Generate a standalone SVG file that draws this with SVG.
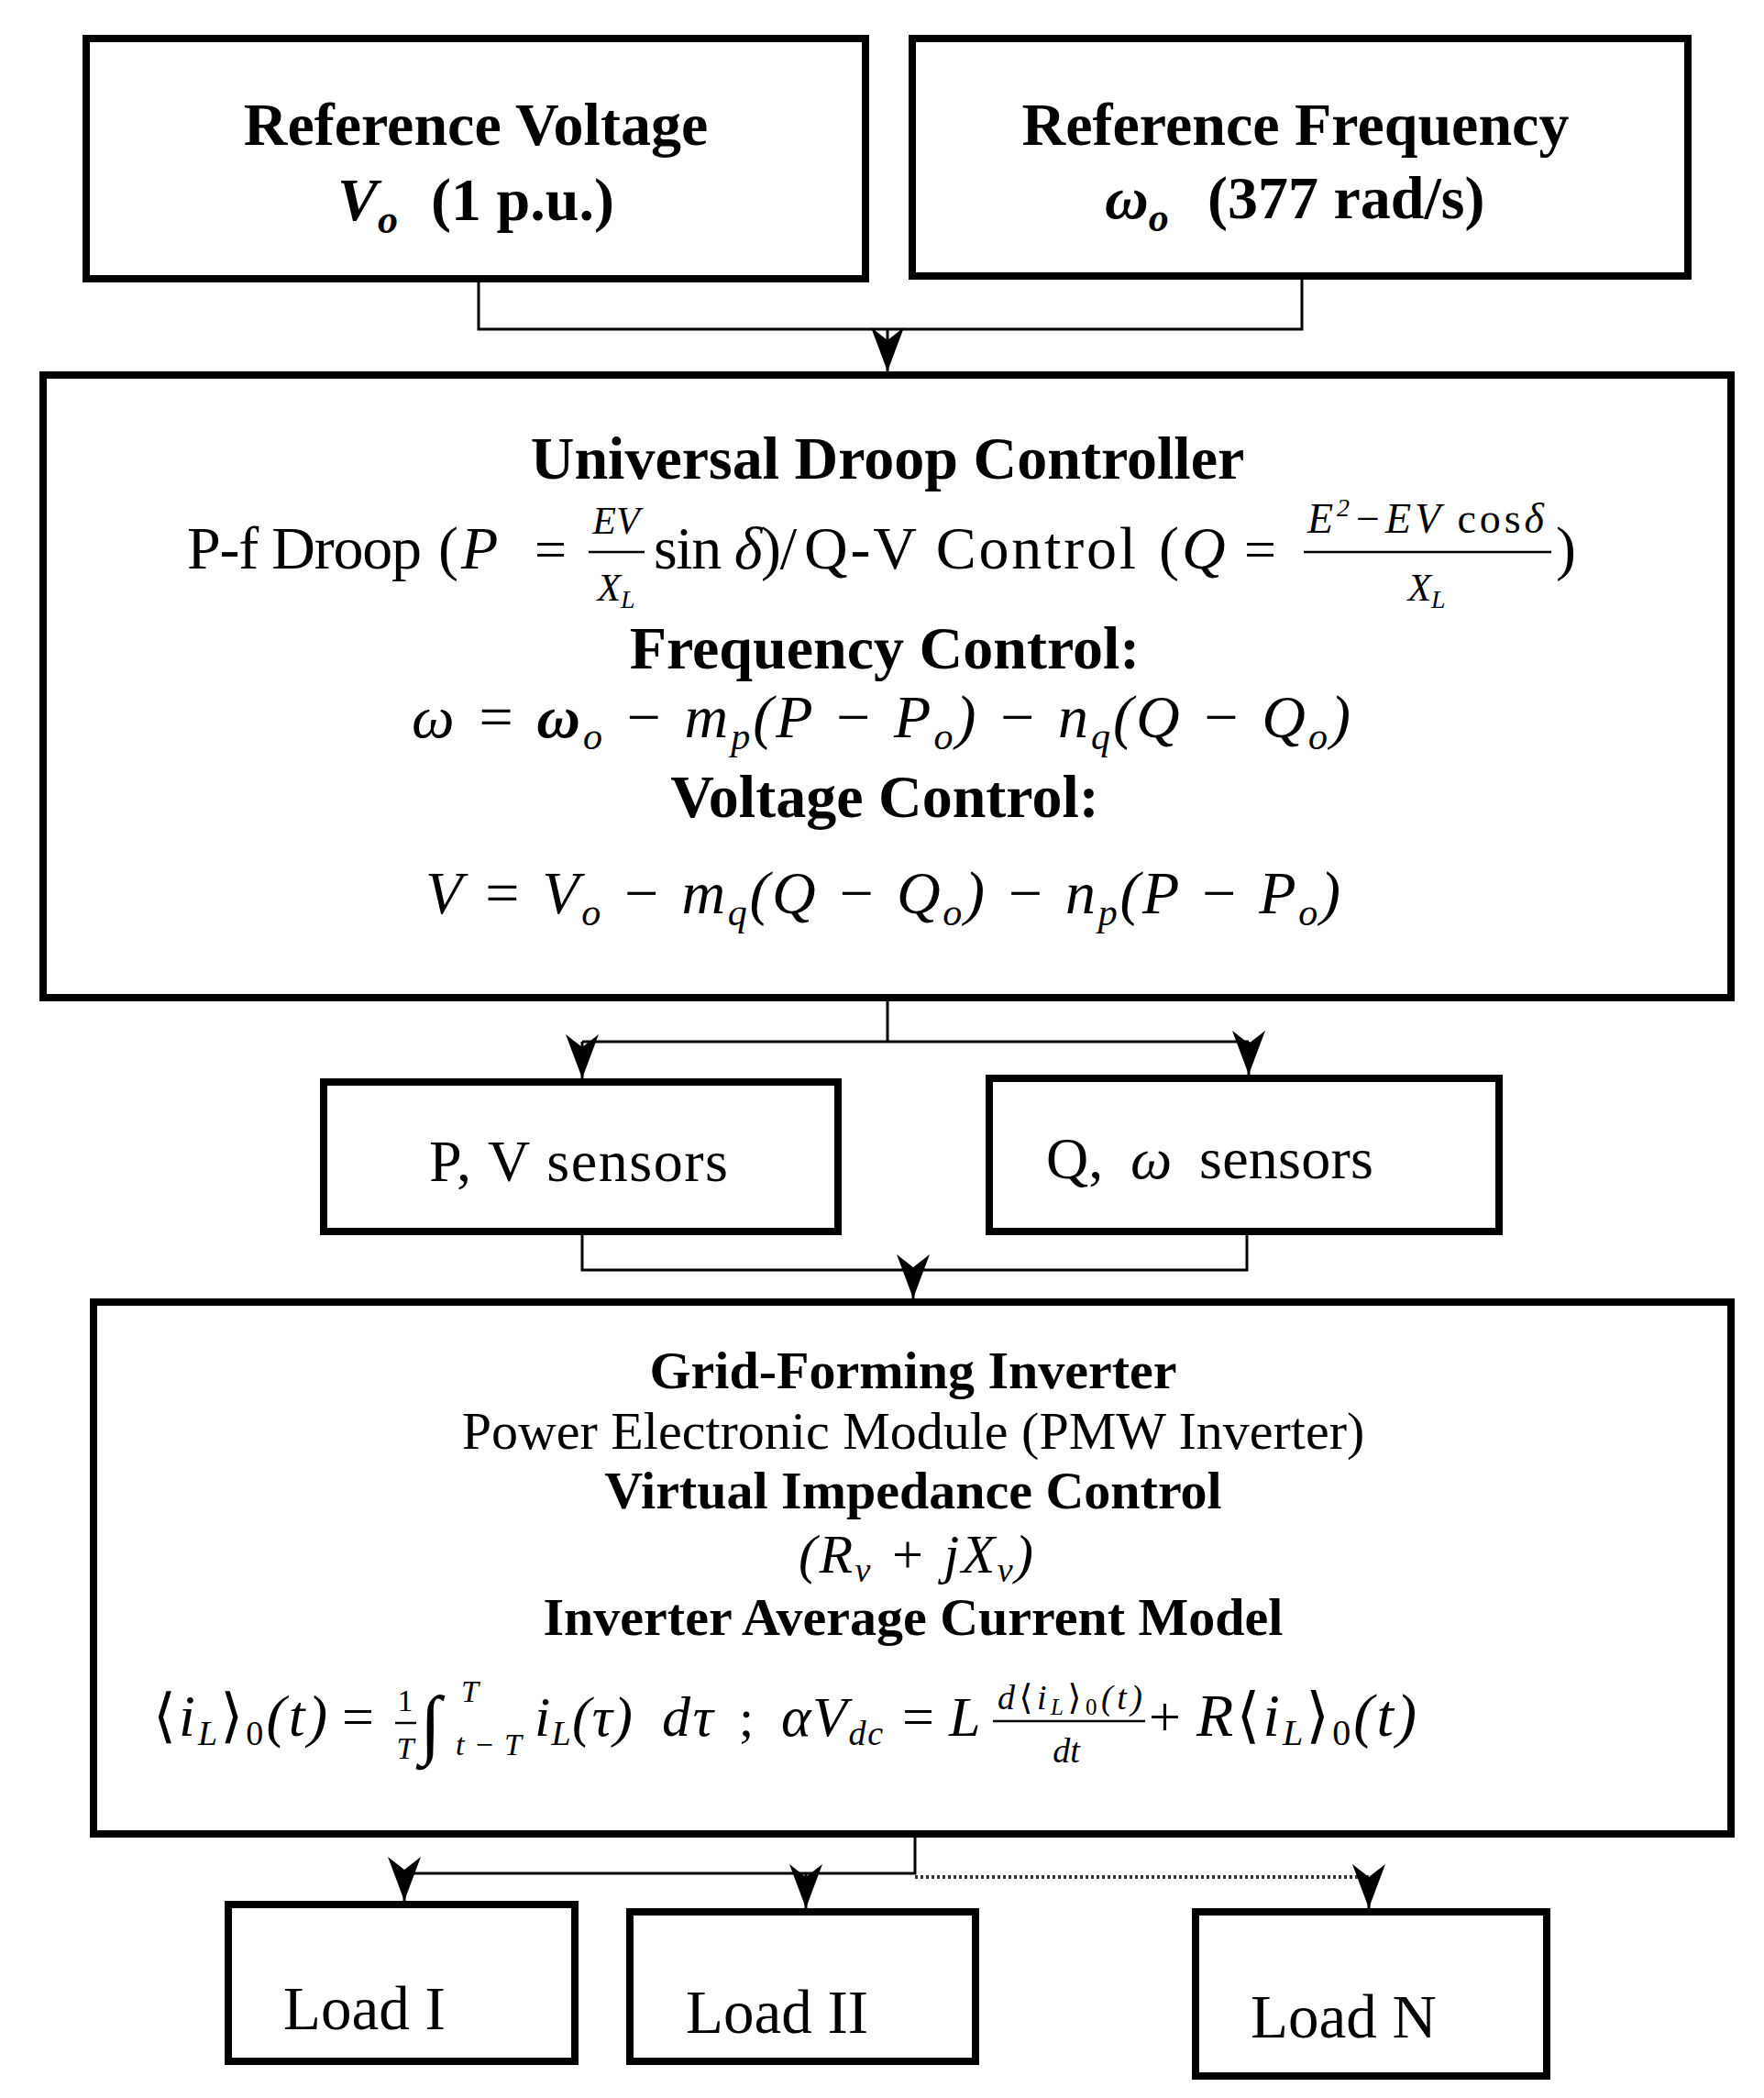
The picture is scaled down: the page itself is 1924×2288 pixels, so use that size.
<svg xmlns="http://www.w3.org/2000/svg" width="1924" height="2288" viewBox="0 0 1924 2288">
<style>
.box{fill:#fff;stroke:#000;stroke-width:8}
.t{font-family:"Liberation Serif","Times New Roman","DejaVu Serif",serif;fill:#000}
.b{font-weight:bold}
.i{font-style:italic}
.c{text-anchor:middle}
.ln{stroke:#000;stroke-width:3;fill:none}
.ar{stroke:#000;stroke-width:3;fill:none;marker-end:url(#ah)}
.dot{stroke:#333;stroke-width:4;fill:none;stroke-dasharray:3 3}
.bar{stroke:#000;stroke-width:2.5}
</style>
<defs>
<marker id="ah" markerUnits="userSpaceOnUse" markerWidth="52" markerHeight="40" viewBox="-50 -20 52 40" refX="0" refY="0" orient="auto">
<path d="M0,0 L-48,-18 L-34,0 L-48,18 Z" fill="#000"/>
</marker>
</defs>
<rect width="1924" height="2288" fill="#fff"/>

<g id="connectors">
<path class="ln" d="M522,308 V359 H1420 V304"/>
<path class="ar" d="M968,359 V405"/>
<path class="ln" d="M968,1092 V1136 M635,1136 H1362"/>
<path class="ar" d="M635,1136 V1176"/>
<path class="ar" d="M1362,1136 V1172"/>
<path class="ln" d="M635,1347 V1385 H1360 V1347"/>
<path class="ar" d="M996,1385 V1416"/>
<path class="ln" d="M998,2004 V2043 H441"/>
<path class="ar" d="M441,2043 V2073"/>
<path class="ar" d="M879,2043 V2081"/>
<path class="dot" d="M998,2047 H1493"/>
<path class="ar" d="M1493,2047 V2081"/>
</g>

<g id="ref-voltage">
<rect class="box" x="94" y="42" width="850" height="262"/>
<text class="t b c" x="519" y="158" font-size="66">Reference Voltage</text>
<text class="t b i" x="368" y="240" font-size="66">V<tspan font-size="44" dy="14">o</tspan></text>
<text class="t b" x="470" y="240" font-size="66">(1 p.u.)</text>
</g>

<g id="ref-frequency">
<rect class="box" x="995" y="42" width="846" height="259"/>
<text class="t b c" x="1413" y="158" font-size="66">Reference Frequency</text>
<text class="t b i" x="1205" y="238" font-size="66">ω<tspan font-size="44" dy="14">o</tspan></text>
<text class="t b" x="1317" y="238" font-size="66">(377 rad/s)</text>
</g>

<g id="droop-controller">
<rect class="box" x="47" y="409" width="1841" height="679"/>
<text class="t b c" x="968" y="522" font-size="66">Universal Droop Controller</text>
<text class="t" x="204" y="620" font-size="66" textLength="256" lengthAdjust="spacing">P-f Droop</text>
<text class="t" x="478" y="620" font-size="66">(</text>
<text class="t i" x="503" y="620" font-size="66">P</text>
<text class="t" x="583" y="620" font-size="62">=</text>
<text class="t i c" x="672" y="582" font-size="42">EV</text>
<line class="bar" x1="642" y1="602" x2="703" y2="602"/>
<text class="t i c" x="672" y="655" font-size="42">X<tspan font-size="28" dy="8">L</tspan></text>
<text class="t" x="713" y="620" font-size="66" textLength="156" lengthAdjust="spacing">sin <tspan class="i">δ</tspan>)/</text>
<text class="t" x="877" y="620" font-size="66" textLength="362" lengthAdjust="spacing">Q-V Control</text>
<text class="t" x="1264" y="620" font-size="66">(</text>
<text class="t i" x="1289" y="620" font-size="66">Q</text>
<text class="t" x="1357" y="620" font-size="62">=</text>
<text class="t i" x="1426" y="581" font-size="46" textLength="258" lengthAdjust="spacing">E<tspan font-size="28" dy="-18">2</tspan><tspan dy="18">−EV </tspan><tspan font-style="normal">cos</tspan>δ</text>
<line class="bar" x1="1422" y1="602" x2="1692" y2="602"/>
<text class="t i c" x="1556" y="655" font-size="42">X<tspan font-size="28" dy="8">L</tspan></text>
<text class="t" x="1697" y="620" font-size="66">)</text>
<text class="t b c" x="965" y="729" font-size="66">Frequency Control:</text>
<text class="t i" x="449" y="804" font-size="66" textLength="1024" lengthAdjust="spacing">ω = <tspan class="b">ω</tspan><tspan font-size="42" dy="13">o</tspan><tspan dy="-13"> − m</tspan><tspan font-size="42" dy="13">p</tspan><tspan dy="-13">(P − P</tspan><tspan font-size="42" dy="13">o</tspan><tspan dy="-13">) − n</tspan><tspan font-size="42" dy="13">q</tspan><tspan dy="-13">(Q − Q</tspan><tspan font-size="42" dy="13">o</tspan><tspan dy="-13">)</tspan></text>
<text class="t b c" x="965" y="891" font-size="66">Voltage Control:</text>
<text class="t i" x="464" y="996" font-size="66" textLength="998" lengthAdjust="spacing">V = V<tspan font-size="42" dy="13">o</tspan><tspan dy="-13"> − m</tspan><tspan font-size="42" dy="13">q</tspan><tspan dy="-13">(Q − Q</tspan><tspan font-size="42" dy="13">o</tspan><tspan dy="-13">) − n</tspan><tspan font-size="42" dy="13">p</tspan><tspan dy="-13">(P − P</tspan><tspan font-size="42" dy="13">o</tspan><tspan dy="-13">)</tspan></text>
</g>

<g id="pv-sensors">
<rect class="box" x="353" y="1180" width="561" height="163"/>
<text class="t" x="468" y="1288" font-size="64" textLength="326" lengthAdjust="spacing">P, V sensors</text>
</g>

<g id="qw-sensors">
<rect class="box" x="1079" y="1176" width="556" height="167"/>
<text class="t" x="1141" y="1285" font-size="64">Q,</text>
<text class="t i" x="1233" y="1285" font-size="64">ω</text>
<text class="t" x="1308" y="1285" font-size="64" textLength="190" lengthAdjust="spacing">sensors</text>
</g>

<g id="grid-forming-inverter">
<rect class="box" x="102" y="1420" width="1786" height="580"/>
<text class="t b c" x="996" y="1514" font-size="58">Grid-Forming Inverter</text>
<text class="t c" x="996" y="1580" font-size="58">Power Electronic Module (PMW Inverter)</text>
<text class="t b c" x="996" y="1645" font-size="58">Virtual Impedance Control</text>
<text class="t i" x="871" y="1715" font-size="60" textLength="256" lengthAdjust="spacing">(R<tspan font-size="38" dy="10">v</tspan><tspan dy="-10"> + jX</tspan><tspan font-size="38" dy="10">v</tspan><tspan dy="-10">)</tspan></text>
<text class="t b c" x="996" y="1783" font-size="58">Inverter Average Current Model</text>
<text class="t i" x="167" y="1893" font-size="64" textLength="190" lengthAdjust="spacing"><tspan font-style="normal">⟨</tspan>i<tspan font-size="38" dy="10">L</tspan><tspan dy="-10" font-style="normal">⟩</tspan><tspan font-size="38" dy="10" font-style="normal">0</tspan><tspan dy="-10">(t)</tspan></text>
<text class="t" x="373" y="1893" font-size="62">=</text>
<text class="t c" x="442" y="1866" font-size="34">1</text>
<line class="bar" x1="431" y1="1879" x2="454" y2="1879"/>
<text class="t i c" x="442" y="1918" font-size="34">T</text>
<text class="t" x="458" y="1908" font-size="84">∫</text>
<text class="t i" x="503" y="1856" font-size="34">T</text>
<text class="t i" x="497" y="1914" font-size="34" textLength="72" lengthAdjust="spacing">t−T</text>
<text class="t i" x="583" y="1893" font-size="62" textLength="107" lengthAdjust="spacing">i<tspan font-size="38" dy="10">L</tspan><tspan dy="-10">(τ)</tspan></text>
<text class="t i" x="722" y="1893" font-size="62" textLength="56" lengthAdjust="spacing">dτ</text>
<text class="t" x="806" y="1893" font-size="58">;</text>
<text class="t i" x="852" y="1893" font-size="62" textLength="111" lengthAdjust="spacing">αV<tspan font-size="38" dy="10">dc</tspan></text>
<text class="t" x="984" y="1893" font-size="62">=</text>
<text class="t i" x="1035" y="1893" font-size="62">L</text>
<text class="t i" x="1088" y="1864" font-size="38" textLength="158" lengthAdjust="spacing">d<tspan font-style="normal">⟨</tspan>i<tspan font-size="25" dy="6">L</tspan><tspan dy="-6" font-style="normal">⟩</tspan><tspan font-size="25" dy="6" font-style="normal">0</tspan><tspan dy="-6">(t)</tspan></text>
<line class="bar" x1="1083" y1="1877" x2="1249" y2="1877"/>
<text class="t i c" x="1163" y="1922" font-size="38">dt</text>
<text class="t" x="1253" y="1893" font-size="62">+</text>
<text class="t i" x="1305" y="1893" font-size="66" textLength="240" lengthAdjust="spacing">R<tspan font-style="normal">⟨</tspan>i<tspan font-size="40" dy="10">L</tspan><tspan dy="-10" font-style="normal">⟩</tspan><tspan font-size="40" dy="10" font-style="normal">0</tspan><tspan dy="-10">(t)</tspan></text>
</g>

<g id="load-1">
<rect class="box" x="249" y="2077" width="378" height="171"/>
<text class="t" x="309" y="2213" font-size="67">Load I</text>
</g>

<g id="load-2">
<rect class="box" x="687" y="2085" width="377" height="163"/>
<text class="t" x="748" y="2217" font-size="67">Load II</text>
</g>

<g id="load-n">
<rect class="box" x="1304" y="2085" width="383" height="179"/>
<text class="t" x="1364" y="2222" font-size="67">Load N</text>
</g>
</svg>
